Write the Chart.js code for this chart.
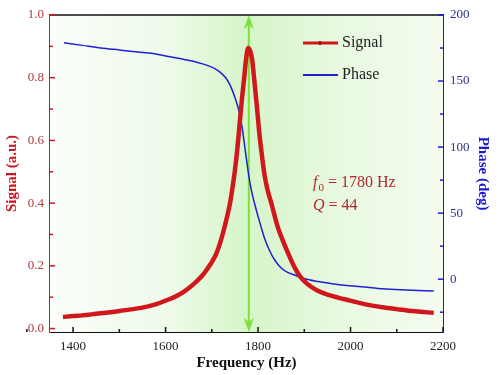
<!DOCTYPE html>
<html>
<head>
<meta charset="utf-8">
<script src="https://cdn.jsdelivr.net/npm/chart.js@4.4.1/dist/chart.umd.min.js"></script>
<style>
  html, body { margin: 0; padding: 0; background: #fff; }
  #wrap { width: 500px; height: 375px; }
</style>
</head>
<body>
<div id="wrap"><canvas id="c" width="500" height="375"></canvas></div>
<script>
// resonance data
const signalFreq = [1378, 1400, 1420, 1450, 1480, 1500, 1530, 1560, 1580, 1600, 1620, 1640, 1660, 1680, 1690, 1700, 1710, 1720, 1730, 1740, 1745, 1750, 1755, 1760, 1765, 1770, 1775, 1779, 1783, 1787, 1792, 1797, 1803, 1809, 1814, 1820, 1829, 1843, 1853, 1865, 1879, 1890, 1905, 1926, 1950, 1975, 1997, 2030, 2069, 2100, 2140, 2180];
const signalValues = [0.037, 0.040, 0.042, 0.047, 0.052, 0.056, 0.062, 0.070, 0.078, 0.089, 0.101, 0.118, 0.141, 0.170, 0.190, 0.212, 0.240, 0.283, 0.338, 0.405, 0.452, 0.505, 0.570, 0.650, 0.730, 0.800, 0.870, 0.895, 0.885, 0.860, 0.790, 0.715, 0.620, 0.545, 0.490, 0.445, 0.398, 0.322, 0.283, 0.240, 0.195, 0.168, 0.144, 0.123, 0.108, 0.098, 0.090, 0.078, 0.068, 0.062, 0.055, 0.050];

const phaseFreq = [1380, 1420, 1460, 1500, 1540, 1570, 1600, 1630, 1660, 1680, 1700, 1717, 1730, 1740, 1750, 1760, 1766, 1771, 1776, 1781, 1787, 1793, 1800, 1807, 1814, 1825, 1836, 1850, 1865, 1880, 1890, 1910, 1930, 1960, 1997, 2030, 2069, 2120, 2180];
const phaseValues = [179, 177, 175, 173.5, 172, 171, 169, 167, 165, 163, 160.5, 157, 152.5, 146.5, 137.5, 125.5, 114, 101, 88, 76, 65, 56.5, 47.5, 39, 31, 21.5, 14.5, 8.5, 5, 3, 1.5, -0.5, -1.8, -3.5, -5, -6, -7.3, -8.2, -9];

const xTicks = [1400, 1600, 1800, 2000, 2200];
const signalTicks = [0.0, 0.2, 0.4, 0.6, 0.8, 1.0];
const phaseTicks = [0, 50, 100, 150, 200];

const f0 = 1780;
const qFactor = 44;

const serif = "'Liberation Serif', 'DejaVu Serif', serif";

// background, green marker arrow, inward ticks, legend and note
const decor = {
  id: 'decor',
  beforeDatasetsDraw(chart) {
    const { ctx, chartArea: a, scales } = chart;
    ctx.save();
    const g = ctx.createLinearGradient(a.left, 0, a.right, 0);
    g.addColorStop(0, '#fbfefa');
    g.addColorStop(0.3, '#eefaea');
    g.addColorStop(0.5, '#d6f5c9');
    g.addColorStop(0.75, '#e9f9e2');
    g.addColorStop(1, '#f4fcf0');
    ctx.fillStyle = g;
    ctx.fillRect(a.left, a.top, a.right - a.left, a.bottom - a.top);

    // arrow at f0
    const x = scales.x.getPixelForValue(f0);
    ctx.strokeStyle = '#7fe03c';
    ctx.fillStyle = '#7fe03c';
    ctx.lineWidth = 2;
    ctx.beginPath();
    ctx.moveTo(x, a.top + 4);
    ctx.lineTo(x, a.bottom - 4);
    ctx.stroke();
    ctx.beginPath();
    ctx.moveTo(x, a.top);
    ctx.lineTo(x - 5, a.top + 14);
    ctx.lineTo(x, a.top + 10);
    ctx.lineTo(x + 5, a.top + 14);
    ctx.fill();
    ctx.beginPath();
    ctx.moveTo(x, a.bottom);
    ctx.lineTo(x - 5, a.bottom - 14);
    ctx.lineTo(x, a.bottom - 10);
    ctx.lineTo(x + 5, a.bottom - 14);
    ctx.fill();
    ctx.restore();
  },
  afterDraw(chart) {
    const { ctx, chartArea: a, scales } = chart;
    ctx.save();
    // top frame line
    ctx.strokeStyle = '#111';
    ctx.lineWidth = 1.5;
    ctx.beginPath();
    ctx.moveTo(a.left, a.top);
    ctx.lineTo(a.right, a.top);
    ctx.stroke();

    // inward ticks, major + minor
    ctx.lineWidth = 1.5;
    ctx.strokeStyle = '#111';
    for (let i = 0; i < xTicks.length; i++) {
      const v = xTicks[i];
      let px = scales.x.getPixelForValue(v);
      ctx.beginPath(); ctx.moveTo(px, a.bottom); ctx.lineTo(px, a.bottom - 5); ctx.stroke();
      px = scales.x.getPixelForValue(v - 100);
      ctx.beginPath(); ctx.moveTo(px, a.bottom); ctx.lineTo(px, a.bottom - 3); ctx.stroke();
    }
    ctx.strokeStyle = '#d0181c';
    for (let i = 0; i < signalTicks.length; i++) {
      let py = scales.y.getPixelForValue(signalTicks[i]);
      ctx.beginPath(); ctx.moveTo(a.left, py); ctx.lineTo(a.left + 5, py); ctx.stroke();
      if (i > 0) {
        py = scales.y.getPixelForValue(signalTicks[i] - 0.1);
        ctx.beginPath(); ctx.moveTo(a.left, py); ctx.lineTo(a.left + 3, py); ctx.stroke();
      }
    }
    ctx.strokeStyle = '#1a1ad6';
    for (let i = 0; i < phaseTicks.length; i++) {
      let py = scales.y2.getPixelForValue(phaseTicks[i]);
      ctx.beginPath(); ctx.moveTo(a.right, py); ctx.lineTo(a.right - 5, py); ctx.stroke();
      py = scales.y2.getPixelForValue(phaseTicks[i] - 25);
      ctx.beginPath(); ctx.moveTo(a.right, py); ctx.lineTo(a.right - 3, py); ctx.stroke();
    }

    // legend
    ctx.lineWidth = 3;
    ctx.strokeStyle = '#d0181c';
    ctx.beginPath(); ctx.moveTo(303, 43); ctx.lineTo(338, 43); ctx.stroke();
    ctx.fillStyle = '#a01010';
    ctx.beginPath(); ctx.arc(320, 43, 2, 0, Math.PI * 2); ctx.fill();
    ctx.lineWidth = 2;
    ctx.strokeStyle = '#2020d0';
    ctx.beginPath(); ctx.moveTo(303, 75); ctx.lineTo(338, 75); ctx.stroke();
    ctx.fillStyle = '#222';
    ctx.font = "16px " + serif;
    ctx.textBaseline = 'middle';
    ctx.textAlign = 'left';
    ctx.fillText('Signal', 342, 43);
    ctx.fillText('Phase', 342, 75);

    // f0 / Q note
    ctx.fillStyle = '#b0282c';
    let tx = 313;
    ctx.font = "italic 16px " + serif;
    ctx.fillText('f', tx, 183);
    tx += ctx.measureText('f').width + 1;
    ctx.font = "11px " + serif;
    ctx.fillText('0', tx, 188);
    tx += ctx.measureText('0').width;
    ctx.font = "16px " + serif;
    ctx.fillText(' = ' + f0 + ' Hz', tx, 183);
    tx = 313;
    ctx.font = "italic 16px " + serif;
    ctx.fillText('Q', tx, 206);
    tx += ctx.measureText('Q').width;
    ctx.font = "16px " + serif;
    ctx.fillText(' = ' + qFactor, tx, 206);
    ctx.restore();
  }
};

const signalPoints = signalFreq.map((f, i) => ({ x: f, y: signalValues[i] }));
const phasePoints = phaseFreq.map((f, i) => ({ x: f, y: phaseValues[i] }));

new Chart(document.getElementById('c'), {
  type: 'line',
  data: {
    datasets: [
      {
        label: 'Signal',
        data: signalPoints,
        yAxisID: 'y',
        borderColor: '#d0181c',
        borderWidth: 4.5,
        pointRadius: 0,
        cubicInterpolationMode: 'monotone'
      },
      {
        label: 'Phase',
        data: phasePoints,
        yAxisID: 'y2',
        borderColor: '#2020d0',
        borderWidth: 1.5,
        pointRadius: 0,
        cubicInterpolationMode: 'monotone'
      }
    ]
  },
  options: {
    responsive: false,
    devicePixelRatio: 1,
    animation: false,
    layout: { padding: { top: 15, left: 0, right: 0, bottom: 0 } },
    plugins: {
      legend: { display: false },
      tooltip: { enabled: false }
    },
    scales: {
      x: {
        type: 'linear',
        min: 1350,
        max: 2200,
        afterBuildTicks: (s) => { s.ticks = xTicks.map(v => ({ value: v })); },
        afterFit: (s) => { s.height = 43; },
        grid: { drawOnChartArea: false, drawTicks: false },
        border: { color: '#111', width: 2 },
        ticks: {
          color: '#222',
          padding: 7,
          font: { family: serif, size: 13 },
          callback: (v) => String(v)
        },
        title: {
          display: true,
          text: 'Frequency (Hz)',
          color: '#111',
          padding: { top: 0, bottom: 3 },
          font: { family: serif, size: 15, weight: 'bold' }
        }
      },
      y: {
        position: 'left',
        min: -0.011,
        max: 1.0,
        afterBuildTicks: (s) => { s.ticks = signalTicks.map(v => ({ value: v })); },
        afterFit: (s) => { s.width = 50; },
        grid: { drawOnChartArea: false, drawTicks: false },
        border: { color: '#d0181c', width: 2 },
        ticks: {
          color: '#b03a3a',
          padding: 6,
          font: { family: serif, size: 13 },
          callback: (v) => v.toFixed(1)
        },
        title: {
          display: true,
          text: 'Signal (a.u.)',
          color: '#c8161d',
          padding: { top: 3, bottom: 0 },
          font: { family: serif, size: 15, weight: 'bold' }
        }
      },
      y2: {
        position: 'right',
        min: -40,
        max: 200,
        afterBuildTicks: (s) => { s.ticks = phaseTicks.map(v => ({ value: v })); },
        afterFit: (s) => { s.width = 57; },
        grid: { drawOnChartArea: false, drawTicks: false },
        border: { color: '#1a1ad6', width: 2 },
        ticks: {
          color: '#30309a',
          padding: 7,
          font: { family: serif, size: 13 },
          callback: (v) => String(v)
        },
        title: {
          display: true,
          text: 'Phase (deg)',
          color: '#1a1ad0',
          padding: { top: 8, bottom: 0 },
          font: { family: serif, size: 15, weight: 'bold' }
        }
      }
    }
  },
  plugins: [decor]
});
</script>
</body>
</html>
